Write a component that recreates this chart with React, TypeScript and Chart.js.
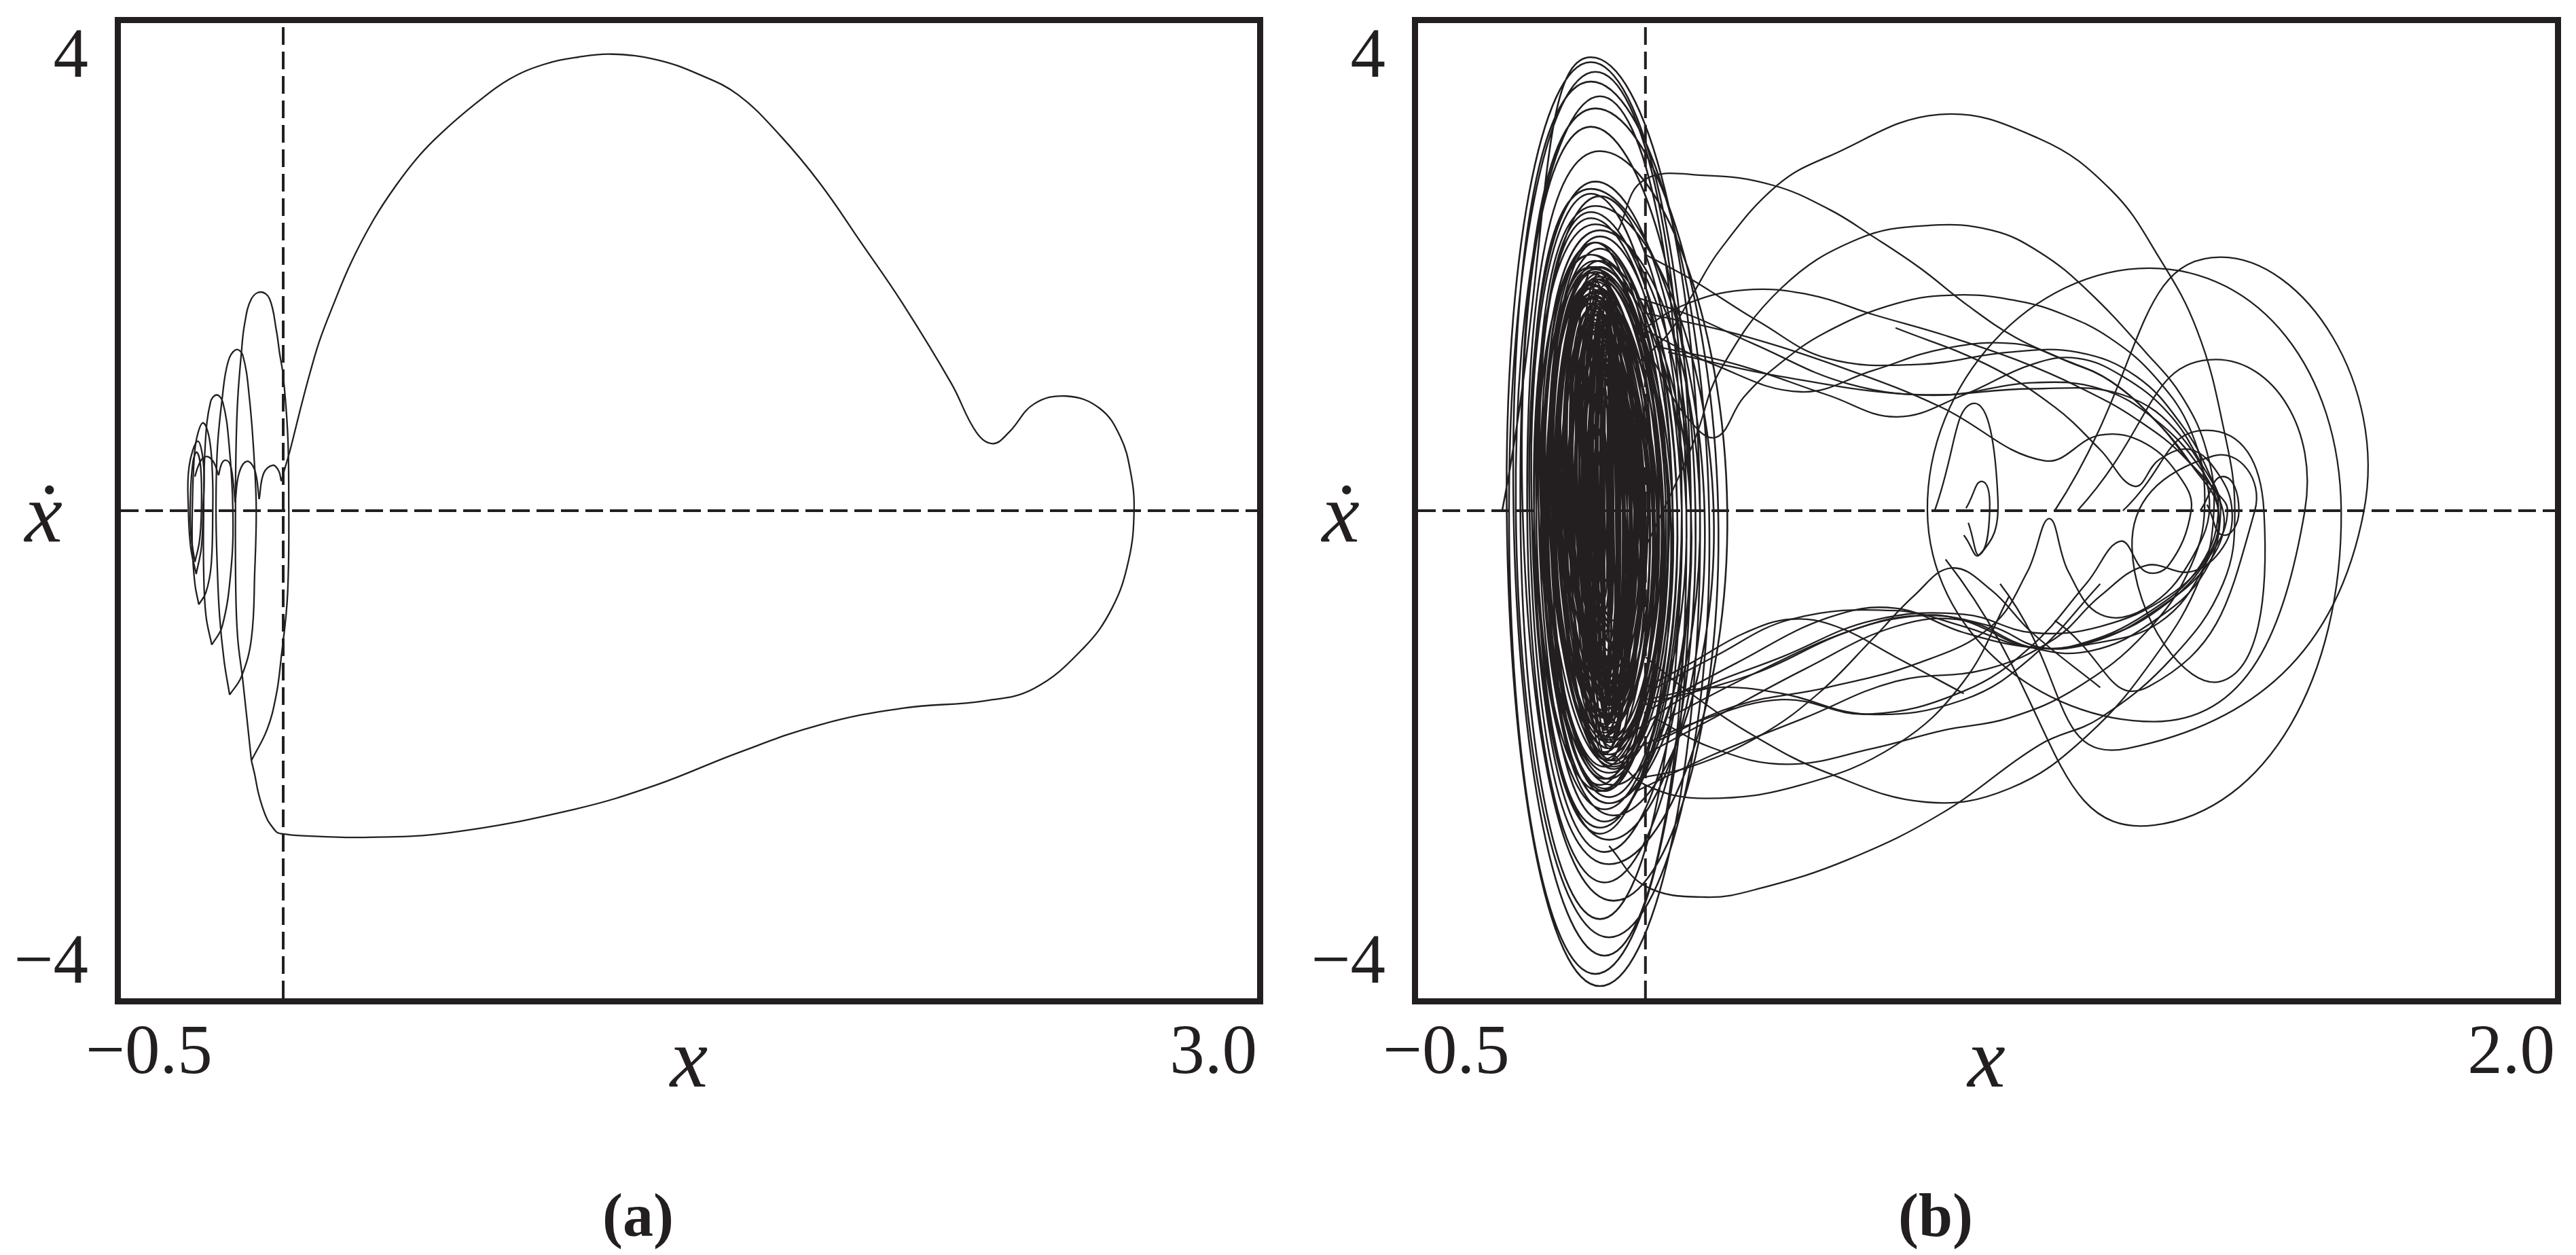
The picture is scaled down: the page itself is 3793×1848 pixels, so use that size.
import React, { useEffect, useRef } from 'react';
import Chart from 'chart.js/auto';

type Pt = [number, number];

const INK = '#231f20';

// axes: both panels share the velocity axis
const Y_RANGE = [-4, 4];
const Y_TICKS = [-4, 4];
const X_RANGE_A = [-0.5, 3.0];
const X_TICKS_A = [-0.5, 3.0];
const X_RANGE_B = [-0.5, 2.0];
const X_TICKS_B = [-0.5, 2.0];

// ---- panel (a): spiral near the origin and one large excursion ----
const SCALLOPS_A: Pt[][] = [
  [[-0.272, 0.28], [-0.262, 0.364], [-0.248, 0.43], [-0.231, 0.442], [-0.213, 0.392], [-0.199, 0.29]],
  [[-0.199, 0.29], [-0.19, 0.383], [-0.178, 0.414], [-0.164, 0.383], [-0.154, 0.234], [-0.148, 0.067]],
  [[-0.148, 0.067], [-0.136, 0.308], [-0.112, 0.405], [-0.088, 0.336], [-0.074, 0.095]],
  [[-0.074, 0.095], [-0.06, 0.308], [-0.032, 0.373], [-0.014, 0.327], [-0.006, 0.243]],
];

const BIG_LOOP_A: Pt[] = [
  [-0.006, 0.243], [0.007, 0.364], [0.021, 0.494], [0.056, 0.865], [0.082, 1.125], [0.111, 1.387],
  [0.153, 1.68], [0.209, 2.035], [0.279, 2.39], [0.348, 2.67], [0.418, 2.91], [0.488, 3.1],
  [0.593, 3.34], [0.697, 3.54], [0.802, 3.66], [0.907, 3.72], [1.011, 3.745], [1.149, 3.7],
  [1.28, 3.58], [1.402, 3.41], [1.53, 3.08], [1.655, 2.68], [1.78, 2.2], [1.908, 1.7],
  [2.059, 1.04], [2.135, 0.644], [2.186, 0.55], [2.236, 0.644], [2.312, 0.874], [2.413, 0.94],
  [2.515, 0.84], [2.578, 0.61], [2.61, 0.32], [2.621, 0.0], [2.604, -0.41], [2.553, -0.8],
  [2.464, -1.13], [2.312, -1.46], [2.16, -1.56], [1.908, -1.62], [1.655, -1.755], [1.402, -1.985],
  [1.149, -2.25], [0.896, -2.45], [0.517, -2.64], [0.25, -2.68], [0.05, -2.665], [-0.011, -2.648],
];

const BRIDGE_A: Pt[] = [
  [-0.011, -2.648], [-0.021, -2.635], [-0.035, -2.589], [-0.049, -2.533], [-0.063, -2.44],
  [-0.077, -2.31], [-0.088, -2.162], [-0.098, -2.05],
];

const LOOPS_A: Pt[][] = [
  [[-0.098, -2.05], [-0.125, -1.38], [-0.14, -1.05], [-0.146, -0.67], [-0.147, 0.07], [-0.145, 0.55],
   [-0.14, 0.92], [-0.129, 1.29], [-0.119, 1.53], [-0.098, 1.738], [-0.069, 1.794], [-0.042, 1.738],
   [-0.021, 1.478], [-0.011, 1.29], [0.0, 1.107], [0.0136, 0.643], [0.017, 0.2], [0.0136, -0.676],
   [-0.0074, -1.233], [-0.0214, -1.51], [-0.049, -1.79], [-0.098, -2.05]],
  [[-0.165, -1.51], [-0.182, -1.233], [-0.196, -0.862], [-0.203, -0.468], [-0.207, 0], [-0.203, 0.5],
   [-0.188, 0.92], [-0.17, 1.22], [-0.146, 1.32], [-0.125, 1.28], [-0.104, 0.92], [-0.088, 0.36],
   [-0.083, 0], [-0.0876, -0.49], [-0.098, -1.05], [-0.129, -1.363], [-0.165, -1.51]],
  [[-0.22, -1.1], [-0.238, -0.86], [-0.245, -0.49], [-0.245, 0], [-0.24, 0.55], [-0.224, 0.89],
   [-0.205, 0.95], [-0.186, 0.89], [-0.167, 0.55], [-0.155, 0], [-0.161, -0.49], [-0.188, -0.95],
   [-0.22, -1.1]],
  [[-0.26, -0.77], [-0.272, -0.6], [-0.28, -0.3], [-0.28, 0], [-0.275, 0.4], [-0.266, 0.6],
   [-0.247, 0.72], [-0.228, 0.6], [-0.218, 0.3], [-0.217, 0], [-0.222, -0.45], [-0.238, -0.67],
   [-0.26, -0.77]],
  [[-0.268, -0.52], [-0.285, -0.3], [-0.292, 0], [-0.29, 0.36], [-0.263, 0.57], [-0.245, 0.36],
   [-0.247, 0], [-0.252, -0.3], [-0.268, -0.52]],
  [[-0.272, -0.42], [-0.284, -0.2], [-0.286, 0.1], [-0.278, 0.4], [-0.266, 0.48], [-0.254, 0.35],
   [-0.252, 0], [-0.258, -0.25], [-0.272, -0.42]],
];

// ---- panel (b): chaotic orbit ----
// core turns around the left focus: [xLeft, xTop, yTop, xRight, xBottom, yBottom]
const CORE_B: number[][] = [
  [-0.315, -0.12, 3.72, 0.12, -0.1, -3.9],
  [-0.305, -0.12, 3.68, 0.1, -0.11, -3.8],
  [-0.3, -0.11, 3.6, 0.09, -0.09, -3.65],
  [-0.29, -0.12, 3.52, 0.14, -0.08, -3.5],
  [-0.285, -0.1, 3.4, 0.08, -0.1, -3.35],
  [-0.275, -0.11, 3.3, 0.16, -0.07, -3.2],
  [-0.27, -0.12, 3.15, 0.11, -0.09, -3.05],
  [-0.26, -0.1, 2.95, 0.18, -0.08, -2.9],
  [-0.255, -0.11, 2.7, 0.1, -0.09, -2.8],
  [-0.25, -0.12, 2.64, 0.13, -0.08, -2.7],
  [-0.25, -0.12, 2.6, 0.06, -0.1, -2.65],
  [-0.245, -0.1, 2.58, 0.08, -0.1, -2.6],
  [-0.24, -0.11, 2.5, 0.15, -0.07, -2.5],
  [-0.23, -0.12, 2.45, 0.08, -0.09, -2.55],
  [-0.235, -0.12, 2.4, 0.07, -0.09, -2.45],
  [-0.245, -0.11, 2.35, 0.1, -0.08, -2.4],
  [-0.23, -0.1, 2.3, 0.12, -0.08, -2.4],
  [-0.222, -0.1, 2.25, 0.07, -0.08, -2.35],
  [-0.225, -0.11, 2.2, 0.06, -0.1, -2.3],
  [-0.24, -0.11, 2.2, 0.05, -0.09, -2.3],
  [-0.215, -0.11, 2.2, 0.02, -0.09, -2.28],
  [-0.23, -0.1, 2.15, 0.03, -0.1, -2.25],
  [-0.22, -0.12, 2.1, 0.1, -0.07, -2.25],
  [-0.235, -0.12, 2.1, 0.04, -0.08, -2.2],
  [-0.228, -0.11, 2.05, 0.045, -0.09, -2.1],
  [-0.215, -0.1, 2.05, 0.05, -0.09, -2.2],
  [-0.21, -0.11, 2.0, 0.09, -0.08, -2.15],
  [-0.218, -0.1, 2.0, 0.035, -0.07, -2.12],
  [-0.205, -0.11, 1.98, 0.06, -0.07, -2.1],
  [-0.222, -0.12, 1.95, 0.02, -0.08, -2.05],
  [-0.19, -0.1, 1.9, 0.03, -0.08, -1.95],
  [-0.212, -0.11, 1.9, 0.01, -0.09, -1.98],
  [-0.206, -0.12, 1.86, 0.025, -0.08, -1.95],
  [-0.2, -0.1, 1.8, -0.01, -0.09, -1.85],
  [-0.17, -0.12, 1.75, 0.01, -0.09, -1.7],
  [-0.195, -0.11, 1.75, 0.0, -0.08, -1.8],
  [-0.19, -0.12, 1.7, -0.02, -0.07, -1.74],
  [-0.185, -0.1, 1.66, -0.005, -0.09, -1.7],
  [-0.18, -0.11, 1.6, -0.03, -0.08, -1.62],
  [-0.15, -0.1, 1.55, -0.01, -0.07, -1.5],
  [-0.175, -0.12, 1.55, -0.015, -0.07, -1.58],
  [-0.17, -0.1, 1.5, -0.04, -0.09, -1.5],
  [-0.165, -0.11, 1.45, -0.025, -0.08, -1.46],
  [-0.16, -0.12, 1.4, -0.045, -0.07, -1.4],
  [-0.155, -0.1, 1.35, -0.035, -0.09, -1.36],
  [-0.13, -0.09, 1.3, -0.03, -0.08, -1.25],
  [-0.15, -0.11, 1.28, -0.05, -0.08, -1.3],
  [-0.145, -0.1, 1.22, -0.055, -0.09, -1.22],
  [-0.14, -0.1, 1.15, -0.06, -0.08, -1.15],
  [-0.135, -0.09, 1.08, -0.065, -0.08, -1.08],
  [-0.115, -0.08, 1.05, -0.045, -0.07, -1.0],
  [-0.13, -0.1, 1.0, -0.07, -0.09, -1.0],
  [-0.125, -0.09, 0.9, -0.075, -0.08, -0.92],
  [-0.12, -0.1, 0.8, -0.08, -0.09, -0.82],
  [-0.115, -0.095, 0.7, -0.085, -0.09, -0.72],
  [-0.108, -0.095, 0.55, -0.09, -0.09, -0.58],
  [-0.14, -0.09, 1.4, -0.02, -0.08, -1.45],
  [-0.165, -0.11, 1.7, 0.0, -0.09, -1.75],
  [-0.185, -0.12, 1.85, 0.04, -0.08, -1.9],
  [-0.2, -0.1, 1.95, 0.05, -0.07, -2.05],
  [-0.195, -0.11, 1.88, 0.02, -0.09, -1.85],
  [-0.175, -0.12, 1.78, 0.015, -0.08, -1.8],
  [-0.16, -0.1, 1.62, -0.005, -0.07, -1.6],
  [-0.145, -0.09, 1.48, -0.015, -0.09, -1.4],
  [-0.125, -0.1, 1.2, -0.035, -0.08, -1.15],
  [-0.135, -0.11, 1.35, -0.025, -0.07, -1.3],
  [-0.155, -0.12, 1.58, -0.008, -0.08, -1.55],
  [-0.18, -0.11, 1.8, 0.025, -0.09, -1.82],
  [-0.198, -0.1, 1.92, 0.045, -0.08, -2.0],
  [-0.21, -0.12, 2.0, 0.055, -0.07, -2.08],
  [-0.188, -0.11, 1.84, 0.035, -0.08, -1.88],
  [-0.168, -0.1, 1.72, 0.005, -0.09, -1.68],
  [-0.152, -0.11, 1.52, -0.012, -0.08, -1.48],
  [-0.12, -0.09, 1.12, -0.04, -0.07, -1.08],
  [-0.142, -0.1, 1.44, -0.018, -0.08, -1.42],
  [-0.162, -0.12, 1.65, -0.002, -0.09, -1.64],
  [-0.178, -0.11, 1.76, 0.018, -0.08, -1.78],
  [-0.192, -0.1, 1.9, 0.038, -0.07, -1.94],
  [-0.172, -0.12, 1.74, 0.008, -0.08, -1.72],
  [-0.158, -0.11, 1.6, -0.004, -0.09, -1.58],
  [-0.138, -0.1, 1.38, -0.022, -0.08, -1.36],
  [-0.11, -0.09, 0.95, -0.05, -0.07, -0.9],
  [-0.128, -0.1, 1.25, -0.032, -0.08, -1.2],
  [-0.148, -0.11, 1.5, -0.014, -0.07, -1.46],
  [-0.182, -0.12, 1.82, 0.028, -0.08, -1.86],
  [-0.202, -0.11, 1.96, 0.052, -0.09, -2.04],
  [-0.14, -0.1, 1.9, -0.03, -0.08, -1.95],
  [-0.135, -0.09, 1.85, -0.04, -0.08, -1.9],
  [-0.13, -0.1, 1.8, -0.025, -0.09, -1.85],
  [-0.125, -0.09, 1.75, -0.045, -0.08, -1.8],
  [-0.12, -0.1, 1.7, -0.035, -0.08, -1.72],
  [-0.115, -0.09, 1.65, -0.05, -0.08, -1.68],
  [-0.11, -0.09, 1.6, -0.055, -0.08, -1.6],
  [-0.105, -0.085, 1.5, -0.06, -0.08, -1.5],
  [-0.1, -0.085, 1.4, -0.065, -0.08, -1.42],
  [-0.145, -0.1, 1.95, -0.02, -0.09, -2.0],
  [-0.138, -0.11, 1.88, -0.045, -0.07, -1.9],
  [-0.128, -0.1, 1.78, -0.05, -0.09, -1.8],
  [-0.118, -0.09, 1.68, -0.04, -0.08, -1.7],
  [-0.108, -0.09, 1.55, -0.058, -0.08, -1.55],
  [-0.098, -0.085, 1.3, -0.07, -0.08, -1.3],
  [-0.15, -0.11, 2.0, -0.01, -0.08, -2.05],
  [-0.133, -0.1, 1.82, -0.03, -0.09, -1.88],
  [-0.123, -0.09, 1.72, -0.06, -0.08, -1.75],
  [-0.113, -0.1, 1.62, -0.048, -0.07, -1.62],
  [-0.103, -0.09, 1.45, -0.062, -0.085, -1.48],
  [-0.095, -0.087, 1.6, -0.072, -0.085, -1.6],
  [-0.092, -0.086, 1.2, -0.078, -0.085, -1.25],
  [-0.097, -0.088, 1.8, -0.074, -0.084, -1.8],
  [-0.09, -0.084, 1.45, -0.08, -0.083, -1.5],
  [-0.094, -0.087, 1.0, -0.082, -0.086, -1.05],
  [-0.099, -0.089, 1.7, -0.076, -0.086, -1.72],
];

// excursions from the core towards the right focus and back
const EXCURSIONS_B: Pt[][] = [
  [[-0.02, 1.2], [0.05, 1.45], [0.1, 1.75], [0.164, 2.14], [0.29, 2.67], [0.405, 2.91], [0.646, 3.25],
   [0.867, 3.05], [1.024, 2.63], [1.129, 2.08], [1.213, 1.48], [1.27, 0.7], [1.296, 0], [1.27, -0.6],
   [1.16, -1.2], [1.0, -1.7], [0.867, -1.92], [0.657, -2.47], [0.447, -2.86], [0.25, -3.1],
   [0.133, -3.17], [0.0, -3.08], [-0.08, -2.75]],
  [[0.0, -0.3], [0.07, 0.25], [0.112, 0.62], [0.164, 1.15], [0.3, 1.83], [0.468, 2.23], [0.625, 2.34],
   [0.762, 2.3], [0.867, 2.12], [0.971, 1.81], [1.1, 1.3], [1.181, 0.93], [1.234, 0.49], [1.25, 0],
   [1.22, -0.55], [1.12, -1.2], [0.97, -1.85], [0.8, -2.28], [0.615, -2.39], [0.4, -2.15],
   [0.24, -1.85], [0.1, -1.5], [0.0, -1.2]],
  [[-0.06, 2.3], [-0.004, 2.71], [0.133, 2.75], [0.28, 2.67], [0.405, 2.47], [0.5, 2.25], [0.604, 1.99],
   [0.71, 1.68], [0.814, 1.42], [0.919, 1.24], [1.024, 1.06], [1.129, 0.71], [1.2, 0.38], [1.26, 0],
   [1.23, -0.45], [1.129, -0.92], [0.971, -1.1], [0.867, -1.12], [0.762, -0.95], [0.604, -0.86],
   [0.447, -0.99], [0.237, -1.34], [0.0, -1.59]],
  [[-0.02, 1.45], [0.08, 1.68], [0.216, 1.81], [0.363, 1.77], [0.5, 1.61], [0.657, 1.44], [0.814, 1.24],
   [0.95, 1.02], [1.08, 0.75], [1.19, 0.42], [1.27, 0], [1.24, -0.42], [1.12, -0.82], [0.98, -1.08],
   [0.846, -1.12], [0.7, -0.95], [0.55, -0.82], [0.321, -0.89], [0.15, -1.2], [0.0, -1.5]],
  [[0.0, 1.48], [0.15, 1.2], [0.342, 0.975], [0.5, 1.15], [0.657, 1.33], [0.814, 1.37], [0.919, 1.24],
   [1.024, 1.06], [1.129, 0.71], [1.2, 0.38], [1.254, 0.16], [1.28, 0], [1.25, -0.32], [1.15, -0.75],
   [1.0, -1.05], [0.85, -1.12], [0.7, -0.9], [0.604, -0.86], [0.447, -0.99], [0.237, -1.34], [0.05, -1.7]],
  [[0.02, 1.35], [0.2, 1.2], [0.4, 0.95], [0.552, 0.77], [0.7, 0.95], [0.85, 1.2], [0.95, 1.25],
   [1.05, 1.1], [1.15, 0.8], [1.22, 0.4], [1.26, 0.05], [1.22, -0.45], [1.1, -0.85], [0.95, -1.1],
   [0.846, -1.12], [0.7, -1.0], [0.55, -0.8], [0.4, -0.88], [0.2, -1.25], [0.0, -1.65]],
  [[0.0, 1.62], [0.2, 1.45], [0.45, 1.15], [0.65, 0.85], [0.877, 0.41], [1.0, 0.62], [1.1, 0.55],
   [1.18, 0.25], [1.2, 0], [1.15, -0.45], [1.1, -0.5], [1.045, -0.25], [0.971, -0.59], [0.846, -1.12],
   [0.7, -1.48], [0.489, -1.67], [0.3, -1.55], [0.1, -1.75], [-0.02, -1.95]],
  [[0.05, 1.3], [0.3, 1.1], [0.6, 0.95], [0.85, 1.0], [1.05, 0.95], [1.18, 0.6], [1.24, 0.1], [1.2, -0.4],
   [1.1, -0.8], [1.0, -0.85], [0.93, -0.5], [0.888, -0.065], [0.84, -0.5], [0.76, -0.95], [0.6, -1.25],
   [0.4, -1.45], [0.2, -1.6], [0.02, -1.9]],
  [[-0.02, 1.45], [0.03, 1.15], [0.08, 0.82], [0.153, 0.6], [0.216, 0.93], [0.29, 1.19], [0.395, 1.46],
   [0.552, 1.7], [0.688, 1.77], [0.82, 1.72], [0.919, 1.61], [1.02, 1.42], [1.12, 1.1], [1.2, 0.65],
   [1.23, 0.1], [1.2, -0.45], [1.1, -1.0], [0.95, -1.45], [0.8, -1.7], [0.657, -1.8], [0.5, -1.95],
   [0.311, -2.08], [0.15, -1.95], [0.02, -1.7]],
  [[-0.02, 1.75], [0.1, 1.6], [0.237, 1.37], [0.447, 1.04], [0.65, 0.95], [0.85, 1.05], [1.0, 1.0],
   [1.12, 0.75], [1.22, 0.35], [1.26, 0], [1.24, -0.35], [1.15, -0.7], [1.0, -0.95], [0.85, -1.0],
   [0.7, -0.85], [0.5, -0.9], [0.3, -1.2], [0.1, -1.5], [-0.02, -1.8]],
  [[0.0, 2.1], [0.1, 1.9], [0.25, 1.55], [0.4, 1.25], [0.6, 1.2], [0.8, 1.3], [0.95, 1.3], [1.08, 1.1],
   [1.18, 0.7], [1.24, 0.3], [1.265, 0], [1.23, -0.5], [1.12, -0.9], [0.98, -1.15], [0.846, -1.12],
   [0.7, -0.9], [0.55, -0.95], [0.35, -1.3], [0.15, -1.7], [0.0, -2.0]],
  [[0.55, 1.5], [0.75, 1.2], [0.9, 0.85], [1.0, 0.5], [1.076, 0.2], [1.13, 0.42], [1.2, 0.5], [1.26, 0.3],
   [1.29, 0], [1.27, -0.3], [1.2, -0.5], [1.1, -0.45], [1.0, -0.7], [0.9, -1.05], [0.75, -1.3],
   [0.55, -1.4], [0.35, -1.7], [0.15, -2.0], [-0.02, -2.3]],
  [[1.0, -1.45], [0.85, -1.0], [0.76, -0.65], [0.673, -0.47], [0.59, -0.7], [0.5, -1.05], [0.38, -1.5],
   [0.25, -1.85], [0.1, -2.1], [-0.02, -2.2]],
  [[0.7, -1.5], [0.55, -1.2], [0.42, -0.95], [0.321, -0.89], [0.22, -1.0], [0.1, -1.25], [0.0, -1.45]],
  [[0.8, -0.7], [0.7, -1.4], [0.552, -1.92], [0.342, -2.25], [0.133, -2.36], [0.0, -2.25], [-0.07, -2.0]],
  [[1.0, -0.6], [0.85, -1.2], [0.7, -1.55], [0.489, -1.67], [0.3, -1.5], [0.15, -1.45], [0.0, -1.55]],
];

// turns around the right focus, given by their extreme points (left, top, right, bottom, ...)
const RIGHT_TURNS_B: Pt[][] = [
  [[0.95, 0], [1.254, 1.24], [1.45, 0], [1.118, -1.73], [0.62, 0], [1.108, 1.99], [1.53, 0],
   [1.118, -2.58], [0.66, -0.4]],
  [[0.9, 0], [1.265, 2.08], [1.58, 0], [1.06, -1.95], [0.78, -0.6]],
  [[1.05, 0], [1.234, 0.66], [1.36, 0], [1.265, -1.4], [1.07, -0.3], [1.25, 0.45], [1.34, 0],
   [1.108, -1.44], [0.9, -0.9]],
  [[1.22, 0], [1.27, 0.28], [1.305, 0], [1.27, -0.2], [1.235, 0.05]],
  [[0.705, 0.02], [0.74, 0.24], [0.757, 0], [0.735, -0.36], [0.71, -0.1]],
  [[0.636, 0], [0.72, 0.88], [0.775, 0.1], [0.735, -0.36], [0.7, -0.2]],
];

interface Trace {
  path: Pt[];
  tension: number;
  width: number;
}

const TRACES_A: Trace[] = [...SCALLOPS_A, BIG_LOOP_A, BRIDGE_A, ...LOOPS_A].map((path) => ({
  path,
  tension: 0.4,
  width: 2.3,
}));

const CORE_PATH_B: Pt[] = CORE_B.flatMap(([xl, xt, yt, xr, xb, yb]) => [
  [xl, 0],
  [xt, yt],
  [xr, 0],
  [xb, yb],
] as Pt[]);

const TRACES_B: Trace[] = [
  { path: CORE_PATH_B, tension: 0.55, width: 2.6 },
  ...EXCURSIONS_B.map((path) => ({ path, tension: 0.4, width: 2.3 })),
  ...RIGHT_TURNS_B.map((path) => ({ path, tension: 0.55, width: 2.3 })),
];

const fmtTick = (v: number, digits: number) => (v < 0 ? '\u2212' : '') + Math.abs(v).toFixed(digits);

// frame, tick labels and captions drawn over the plot
const frameText = {
  id: 'frameText',
  afterDraw(chart: any, _args: any, opts: any) {
    const { ctx, chartArea: area, scales } = chart;
    const sx = scales.x;
    const sy = scales.y;
    const w = area.right - area.left;
    const h = area.bottom - area.top;
    const midX = (area.left + area.right) / 2;

    ctx.save();
    ctx.setLineDash([]);
    ctx.strokeStyle = INK;
    ctx.lineWidth = 9;
    ctx.strokeRect(area.left - 4.5, area.top - 4.5, w + 9, h + 9);

    ctx.fillStyle = INK;
    ctx.textBaseline = 'alphabetic';
    ctx.font = '103px "Liberation Serif", "Times New Roman", serif';
    ctx.textAlign = 'right';
    for (const v of opts.yTicks) {
      const py = sy.getPixelForValue(v);
      ctx.fillText(fmtTick(v, 0), area.left - 48, v === sy.max ? py + 79 : py - 23);
    }
    for (const v of opts.xTicks) {
      const px = sx.getPixelForValue(v);
      const first = v === sx.min;
      ctx.textAlign = first ? 'left' : 'right';
      ctx.fillText(fmtTick(v, 1), first ? px - 52 : px, area.bottom + 110);
    }

    ctx.font = 'italic 125px "Liberation Serif", "DejaVu Serif", serif';
    ctx.textAlign = 'center';
    ctx.fillText('x', midX, area.bottom + 130);
    ctx.fillText('\u1E8B', area.left - 114, sy.getPixelForValue(0) + 46);

    ctx.font = 'bold 90px "Liberation Serif", "Times New Roman", serif';
    ctx.fillText(opts.caption, midX - 75, area.bottom + 350);
    ctx.restore();
  },
};

interface PanelProps {
  left: number;
  width: number;
  padLeft: number;
  padRight: number;
  xRange: number[];
  xTicks: number[];
  traces: Trace[];
  caption: string;
}

const HEIGHT = 1848;

const PhasePanel: React.FC<PanelProps> = ({ left, width, padLeft, padRight, xRange, xTicks, traces, caption }) => {
  const canvasRef = useRef<HTMLCanvasElement>(null);

  useEffect(() => {
    if (!canvasRef.current) return;
    const [xMin, xMax] = xRange;
    const [yMin, yMax] = Y_RANGE;

    const line = (t: Trace) => ({
      data: t.path.map(([x, y]) => ({ x, y })),
      borderColor: INK,
      borderWidth: t.width,
      pointRadius: 0,
      fill: false,
      tension: t.tension,
    });
    const dashed = (path: Pt[]) => ({
      data: path.map(([x, y]) => ({ x, y })),
      borderColor: INK,
      borderWidth: 4,
      borderDash: [26, 10],
      pointRadius: 0,
      fill: false,
      tension: 0,
    });

    const chart = new Chart(canvasRef.current, {
      type: 'line',
      data: {
        datasets: [
          dashed([[0, yMin], [0, yMax]]),
          dashed([[xMin, 0], [xMax, 0]]),
          ...traces.map(line),
        ],
      },
      options: {
        animation: false,
        responsive: false,
        devicePixelRatio: 1,
        events: [],
        layout: { padding: { left: padLeft, right: padRight, top: 34, bottom: 378 } },
        elements: { line: { borderJoinStyle: 'round', capBezierPoints: true } },
        plugins: {
          legend: { display: false },
          tooltip: { enabled: false },
          frameText: { xTicks, yTicks: Y_TICKS, caption },
        },
        scales: {
          x: { type: 'linear', min: xMin, max: xMax, display: false },
          y: { type: 'linear', min: yMin, max: yMax, display: false },
        },
      } as any,
      plugins: [frameText],
    });

    return () => {
      chart.destroy();
    };
  }, [xRange, xTicks, traces, caption, padLeft, padRight]);

  return (
    <canvas
      ref={canvasRef}
      width={width}
      height={HEIGHT}
      style={{ position: 'absolute', left, top: 0, width, height: HEIGHT, display: 'block' }}
    />
  );
};

export default function App() {
  return (
    <div style={{ position: 'absolute', left: 0, top: 0, width: 3793, height: HEIGHT, background: '#fff', overflow: 'hidden' }}>
      <PhasePanel left={0} width={1900} padLeft={178} padRight={49} xRange={X_RANGE_A} xTicks={X_TICKS_A} traces={TRACES_A} caption="(a)" />
      <PhasePanel left={1900} width={1893} padLeft={188} padRight={31} xRange={X_RANGE_B} xTicks={X_TICKS_B} traces={TRACES_B} caption="(b)" />
    </div>
  );
}
